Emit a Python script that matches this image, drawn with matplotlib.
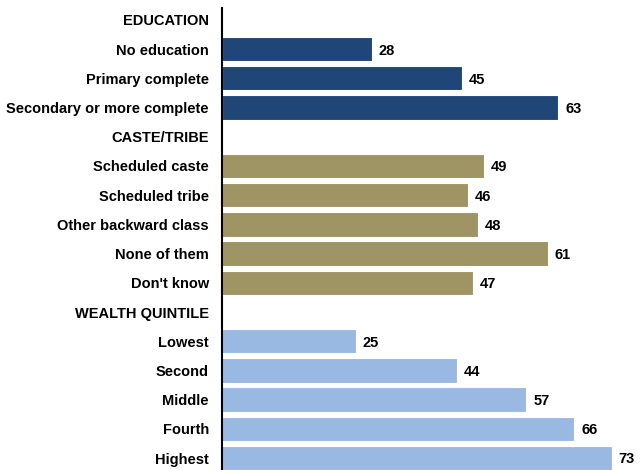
import matplotlib.pyplot as plt

plt.rcParams['font.family'] = ['Liberation Sans', 'DejaVu Sans']

# categories (top to bottom); None values mark the group headers
labels = ["EDUCATION", "No education", "Primary complete", "Secondary or more complete",
          "CASTE/TRIBE", "Scheduled caste", "Scheduled tribe", "Other backward class",
          "None of them", "Don't know",
          "WEALTH QUINTILE", "Lowest", "Second", "Middle", "Fourth", "Highest"]
values = [None, 28, 45, 63,
          None, 49, 46, 48, 61, 47,
          None, 25, 44, 57, 66, 73]
groups = ["h", "edu", "edu", "edu",
          "h", "caste", "caste", "caste", "caste", "caste",
          "h", "wealth", "wealth", "wealth", "wealth", "wealth"]
colors = {"edu": "#1F4677", "caste": "#9E9464", "wealth": "#99B9E3"}

fig = plt.figure(figsize=(6.4, 4.7), dpi=100)
ax = fig.add_axes([0.347, 0.0, 0.653, 0.983])

for i, (v, g) in enumerate(zip(values, groups)):
    if v is None:
        continue
    ax.barh(i, v, height=0.83, color=colors[g], edgecolor="white", linewidth=0.8)
    ax.text(v + 1.3, i + 0.05, str(v), va="center", ha="left",
            fontsize=10.5, fontweight="bold", color="black")

ax.set_yticks(range(len(labels)))
ax.set_yticklabels(labels, fontsize=10.5, fontweight="bold")
ax.tick_params(axis="y", length=0, pad=9.5)
ax.set_ylim(15.41, -0.41)
ax.set_xlim(0, 78.3)
ax.set_xticks([])
for s in ["top", "right", "bottom"]:
    ax.spines[s].set_visible(False)
ax.spines["left"].set_linewidth(1.5)

fig.savefig("out.png", dpi=100)
